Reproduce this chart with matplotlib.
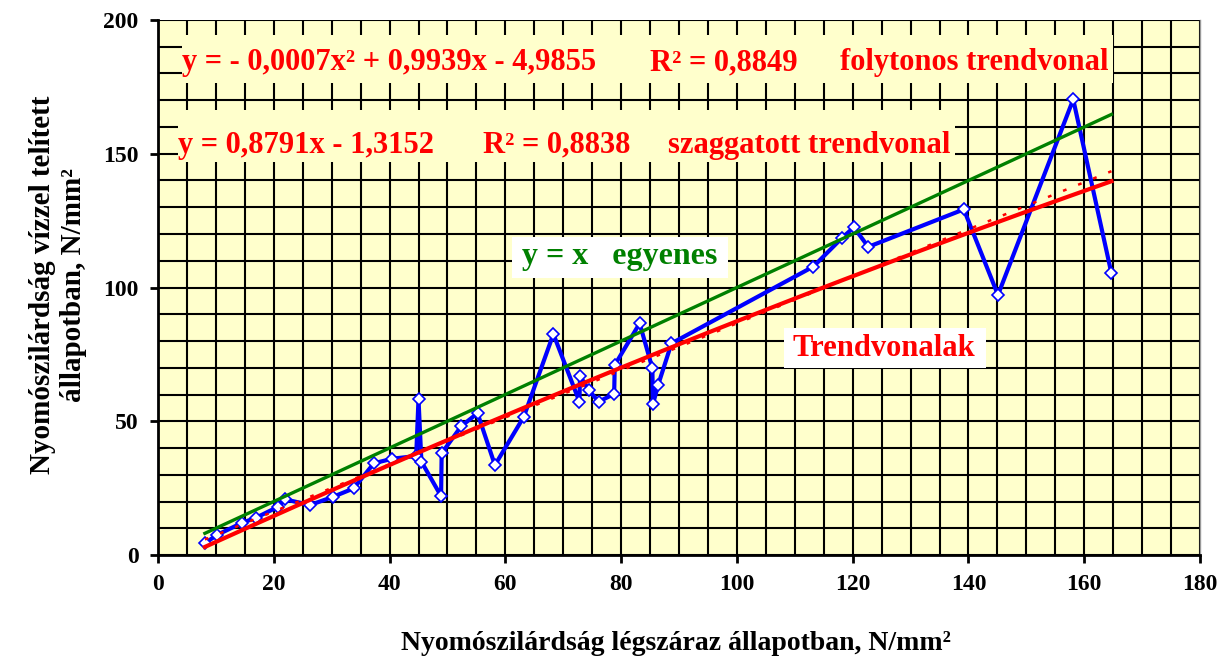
import matplotlib
matplotlib.use("Agg")
import matplotlib.pyplot as plt
import numpy as np
from matplotlib.ticker import MultipleLocator
from matplotlib.patches import Rectangle

# ---- data ----
x_legszaraz = [8.1, 10.2, 14.5, 17.0, 20.8, 21.9, 26.3, 30.3, 33.8, 37.3, 40.5, 44.6,
               45.0, 45.5, 48.9, 49.0, 52.4, 55.2, 58.2, 63.2, 68.3, 72.8, 72.9, 74.4,
               76.1, 78.8, 78.9, 83.2, 85.4, 85.5, 86.4, 88.7, 113.2, 118.1, 120.2,
               122.7, 139.2, 145.1, 158.1, 164.7]
y_telitett = [4.4, 7.5, 12.0, 14.0, 18.1, 20.8, 18.7, 21.8, 24.9, 34.3, 36.0, 37.0,
              58.3, 34.9, 22.0, 38.0, 48.2, 53.0, 33.6, 51.7, 82.6, 57.3, 67.0, 61.7,
              57.3, 60.2, 71.0, 86.6, 69.8, 56.4, 63.6, 79.1, 107.8, 118.4, 122.5,
              115.2, 129.2, 97.2, 170.3, 105.3]

# trend line coefficients shown on the chart
poly_coef = [-0.0007, 0.9939, -4.9855]   # folytonos trendvonal
lin_coef = [0.8791, -1.3152]             # szaggatott trendvonal
trend_range = [8.1, 164.7]

x_ticks = [0, 20, 40, 60, 80, 100, 120, 140, 160, 180]
y_ticks = [0, 50, 100, 150, 200]

poly_parts = ["y = - 0,0007x² + 0,9939x - 4,9855", "R² = 0,8849", "folytonos trendvonal"]
lin_parts = ["y = 0,8791x - 1,3152", "R² = 0,8838", "szaggatott trendvonal"]
txt_yx = "y = x   egyenes"
txt_trend = "Trendvonalak"
xlabel = "Nyomószilárdság légszáraz állapotban, N/mm²"
ylabel = "Nyomószilárdság vízzel telített\nállapotban, N/mm²"

# ---- figure ----
BG = "#FFFFCC"
SERIF = ["Liberation Serif", "DejaVu Serif"]
W, H = 1221, 661
X0, X1, Y0, Y1 = 158, 1200, 555, 20

fig = plt.figure(figsize=(W/100, H/100), dpi=100)
ax = fig.add_axes([X0/W, 1 - Y0/H, (X1-X0)/W, (Y0-Y1)/H])
ax.set_facecolor(BG)
ax.set_xlim(0, 180)
ax.set_ylim(0, 200)

def px2data(px, py):
    return (px - X0) / (X1 - X0) * 180, (Y0 - py) / (Y0 - Y1) * 200

ax.xaxis.set_minor_locator(MultipleLocator(5))
ax.yaxis.set_minor_locator(MultipleLocator(10))
ax.set_xticks(x_ticks)
ax.set_yticks(y_ticks)
ax.set_xticklabels([str(v) for v in x_ticks], fontfamily=SERIF, fontweight="bold", fontsize=17)
ax.set_yticklabels([str(v) for v in y_ticks], fontfamily=SERIF, fontweight="bold", fontsize=17)
ax.tick_params(which="major", direction="out", length=6, width=2, color="black", pad=8)
ax.tick_params(which="minor", length=0)
ax.grid(which="both", color="black", linewidth=1.5)
ax.set_axisbelow(True)

ax.spines["top"].set_visible(False)
ax.spines["right"].set_color("#999999")
ax.spines["right"].set_linewidth(1)
ax.spines["left"].set_linewidth(2)
ax.spines["bottom"].set_linewidth(2)

# background boxes behind annotations (hide the grid)
def box(px0, py0, px1, py1, color):
    x0, y0 = px2data(px0, py1)
    x1, y1 = px2data(px1, py0)
    ax.add_patch(Rectangle((x0, y0), x1 - x0, y1 - y0, facecolor=color,
                           edgecolor="none", zorder=1.5))

box(182, 35, 1113, 83, BG)
box(178, 110, 955, 162, BG)
box(512, 237, 728, 278, "white")
box(784, 328, 986, 368, "white")

# series
ax.plot(x_legszaraz, y_telitett, color="#0000FF", linewidth=3, marker="D",
        markersize=6.5, markerfacecolor="white", markeredgecolor="#0000FF",
        markeredgewidth=1.2, zorder=3)

xt = np.linspace(trend_range[0], trend_range[1], 200)
ax.plot(trend_range, trend_range, color="#008000", linewidth=2.4, zorder=4)
ax.plot(xt, np.polyval(poly_coef, xt), color="#FF0000", linewidth=3, zorder=5)
ax.plot(xt, np.polyval(lin_coef, xt), color="#FF0000", linewidth=1.8,
        linestyle=(0, (1.5, 5)), zorder=5)

# annotations
for part, px in zip(poly_parts, [182, 650, 840]):
    xd, yd = px2data(px, 63)
    ax.text(xd, yd, part, color="#FF0000", fontfamily=SERIF, fontweight="bold",
            fontsize=22, ha="left", va="center", zorder=6)
for part, px in zip(lin_parts, [178, 483, 668]):
    xd, yd = px2data(px, 145)
    ax.text(xd, yd, part, color="#FF0000", fontfamily=SERIF, fontweight="bold",
            fontsize=22, ha="left", va="center", zorder=6)
xd, yd = px2data(620, 257)
ax.text(xd, yd, txt_yx, color="#008000", fontfamily=SERIF, fontweight="bold",
        fontsize=23, ha="center", va="center", zorder=6)
xd, yd = px2data(884, 348)
ax.text(xd, yd, txt_trend, color="#FF0000", fontfamily=SERIF, fontweight="bold",
        fontsize=22, ha="center", va="center", zorder=6)

fig.text(676/W, 1 - 643/H, xlabel, fontfamily=SERIF, fontweight="bold",
         fontsize=20, ha="center", va="center")
fig.text(58/W, 1 - 285/H, ylabel, fontfamily=SERIF, fontweight="bold",
         fontsize=21, ha="center", va="center", rotation=90, multialignment="center",
         linespacing=1.2)

fig.savefig("out.png", dpi=100, facecolor="white")
